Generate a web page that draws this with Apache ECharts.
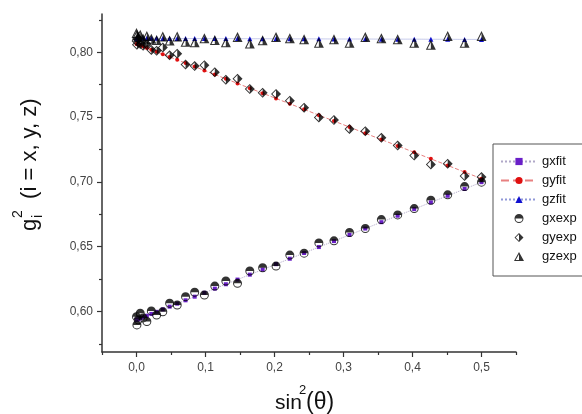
<!DOCTYPE html>
<html>
<head>
<meta charset="utf-8">
<script src="https://cdn.jsdelivr.net/npm/echarts@6/dist/echarts.min.js"></script>
<style>
  html, body { margin: 0; padding: 0; background: #fff; }
  #chart { width: 582px; height: 414px; }
</style>
</head>
<body>
<div id="chart"></div>
<script>
// sin^2(theta) sampling points shared by all series
const sin2Theta = [0.0000, 0.0006, 0.0024, 0.0054, 0.0096, 0.0150, 0.0215, 0.0292, 0.0381, 0.0480,
  0.0590, 0.0711, 0.0843, 0.0984, 0.1135, 0.1295, 0.1464, 0.1642, 0.1828, 0.2022,
  0.2222, 0.2429, 0.2643, 0.2862, 0.3087, 0.3316, 0.3549, 0.3785, 0.4025, 0.4266,
  0.4510, 0.4755, 0.5000];

// measured g^2 values
const gxExp = [0.5960, 0.5896, 0.5935, 0.5986, 0.5950, 0.5922, 0.6004, 0.5973, 0.5998, 0.6063,
  0.6050, 0.6114, 0.6148, 0.6127, 0.6196, 0.6235, 0.6217, 0.6312, 0.6337, 0.6350,
  0.6435, 0.6450, 0.6529, 0.6545, 0.6609, 0.6640, 0.6709, 0.6745, 0.6794, 0.6858,
  0.6900, 0.6964, 0.6998];
const gyExp = [0.8088, 0.8058, 0.8104, 0.8065, 0.8050, 0.8063, 0.8019, 0.8012, 0.8037, 0.7977,
  0.7990, 0.7906, 0.7894, 0.7900, 0.7846, 0.7788, 0.7796, 0.7717, 0.7688, 0.7678,
  0.7627, 0.7573, 0.7498, 0.7478, 0.7409, 0.7391, 0.7340, 0.7281, 0.7204, 0.7135,
  0.7140, 0.7045, 0.7037];
const gzExp = [0.8150, 0.8135, 0.8119, 0.8135, 0.8104, 0.8127, 0.8104, 0.8096, 0.8123, 0.8092,
  0.8123, 0.8081, 0.8077, 0.8108, 0.8096, 0.8077, 0.8119, 0.8068, 0.8094, 0.8119,
  0.8109, 0.8102, 0.8075, 0.8102, 0.8075, 0.8119, 0.8109, 0.8102, 0.8075, 0.8058,
  0.8127, 0.8075, 0.8127];

// fitted g^2 values
const gxFit = [0.5935, 0.5936, 0.5940, 0.5946, 0.5955, 0.5967, 0.5981, 0.5997, 0.6016, 0.6037,
  0.6060, 0.6086, 0.6114, 0.6144, 0.6176, 0.6210, 0.6246, 0.6284, 0.6323, 0.6365,
  0.6407, 0.6451, 0.6497, 0.6543, 0.6591, 0.6640, 0.6689, 0.6739, 0.6790, 0.6842,
  0.6893, 0.6945, 0.6998];
const gyFit = [0.8065, 0.8064, 0.8060, 0.8054, 0.8045, 0.8034, 0.8020, 0.8004, 0.7986, 0.7965,
  0.7942, 0.7917, 0.7890, 0.7860, 0.7829, 0.7796, 0.7760, 0.7723, 0.7685, 0.7644,
  0.7603, 0.7560, 0.7515, 0.7470, 0.7423, 0.7375, 0.7327, 0.7278, 0.7228, 0.7178,
  0.7127, 0.7076, 0.7025];
const gzFit = [0.8108, 0.8108, 0.8108, 0.8108, 0.8108, 0.8108, 0.8108, 0.8108, 0.8107, 0.8107,
  0.8107, 0.8107, 0.8107, 0.8106, 0.8106, 0.8106, 0.8106, 0.8105, 0.8105, 0.8105,
  0.8104, 0.8104, 0.8104, 0.8103, 0.8103, 0.8103, 0.8102, 0.8102, 0.8102, 0.8101,
  0.8101, 0.8100, 0.8100];

// axis ticks
const xMajorTicks = [0.0, 0.1, 0.2, 0.3, 0.4, 0.5];
const xMinorTicks = [-0.05, 0.05, 0.15, 0.25, 0.35, 0.45, 0.55];
const yMajorTicks = [0.60, 0.65, 0.70, 0.75, 0.80];
const yMinorTicks = [0.575, 0.625, 0.675, 0.725, 0.775, 0.825];

const seriesNames = ['gxfit', 'gyfit', 'gzfit', 'gxexp', 'gyexp', 'gzexp'];

// half-filled marker shapes (outline ring + solid half)
const halfCircle = 'path://M-10,0A10,10,0,1,1,10,0A10,10,0,1,1,-10,0ZM-7.8,0A7.8,7.8,0,0,0,7.8,0Z';
const halfDiamond = 'path://M0,-10L10,0L0,10L-10,0ZM0,-7.4L-7.4,0L0,7.4Z';
const halfTriangle = 'path://M0,-10L10,8L-10,8ZM0,-5.6L-6.6,6.2L0,6.2Z';

const pairs = ys => sin2Theta.map((x, i) => [x, ys[i]]);

const FONT = '"Liberation Sans", Arial, sans-serif';
const axisColor = '#333';

function fitSeries(name, ys, symbol, size, color, lineColor, lineType) {
  return {
    name, type: 'line', data: pairs(ys), xAxisIndex: 0, yAxisIndex: 0,
    symbol, symbolSize: size, showSymbol: true, z: 2,
    itemStyle: { color },
    lineStyle: { color: lineColor, width: 1, type: lineType }
  };
}
function expSeries(name, ys, symbol, size) {
  return {
    name, type: 'scatter', data: pairs(ys), xAxisIndex: 0, yAxisIndex: 0,
    symbol, symbolSize: size, z: 3,
    itemStyle: { color: '#000' }
  };
}

const chart = echarts.init(document.getElementById('chart'), null, { renderer: 'canvas' });
chart.setOption({
  animation: false,
  backgroundColor: '#fff',
  grid: { left: 102, top: 14, width: 414, height: 338, containLabel: false },
  legend: {
    orient: 'vertical', left: 493, top: 144,
    itemWidth: 36, itemHeight: 9, itemGap: 6,
    padding: [11, 40, 13, 7],
    borderColor: '#555', borderWidth: 1,
    textStyle: { fontSize: 13, color: '#111', fontFamily: FONT },
    data: seriesNames
  },
  xAxis: [
    {
      type: 'value', min: -0.05, max: 0.55, position: 'bottom',
      axisLine: { show: true, onZero: false, lineStyle: { color: axisColor, width: 1.5 } },
      axisTick: { show: true, length: 5, customValues: xMajorTicks, lineStyle: { color: axisColor, width: 1.2 } },
      axisLabel: { customValues: xMajorTicks, margin: 10, fontSize: 12, color: '#444', fontFamily: FONT,
        formatter: v => v.toFixed(1).replace('.', ',') },
      splitLine: { show: false }
    },
    {
      type: 'value', min: -0.05, max: 0.55, position: 'bottom',
      axisLine: { show: false, onZero: false },
      axisTick: { show: true, length: 3, customValues: xMinorTicks, lineStyle: { color: axisColor, width: 1.2 } },
      axisLabel: { show: false },
      splitLine: { show: false }
    }
  ],
  yAxis: [
    {
      type: 'value', min: 0.5687, max: 0.8296, position: 'left',
      axisLine: { show: true, onZero: false, lineStyle: { color: axisColor, width: 1.5 } },
      axisTick: { show: true, length: 5, customValues: yMajorTicks, lineStyle: { color: axisColor, width: 1.2 } },
      axisLabel: { customValues: yMajorTicks, margin: 9, fontSize: 12, color: '#444', fontFamily: FONT,
        formatter: v => v.toFixed(2).replace('.', ',') },
      splitLine: { show: false }
    },
    {
      type: 'value', min: 0.5687, max: 0.8296, position: 'left',
      axisLine: { show: false, onZero: false },
      axisTick: { show: true, length: 3, customValues: yMinorTicks, lineStyle: { color: axisColor, width: 1.2 } },
      axisLabel: { show: false },
      splitLine: { show: false }
    }
  ],
  graphic: [
    {
      // x axis title: sin^2(θ)
      type: 'group', x: 275, y: 403,
      children: [
        { type: 'text', x: 0, y: 0, style: { text: 'sin', font: '21px ' + FONT, fill: '#111', verticalAlign: 'middle' } },
        { type: 'text', x: 24, y: -13, style: { text: '2', font: '13px ' + FONT, fill: '#111', verticalAlign: 'middle' } },
        { type: 'text', x: 31, y: 0, style: { text: '(θ)', font: '23px ' + FONT, fill: '#111', verticalAlign: 'middle' } }
      ]
    },
    {
      // y axis title: g_i^2 (i = x, y, z)
      type: 'group', x: 29.5, y: 165, rotation: Math.PI / 2,
      children: [
        { type: 'text', x: -66, y: 0, style: { text: 'g', font: '22px ' + FONT, fill: '#111', verticalAlign: 'middle' } },
        { type: 'text', x: -53, y: -11, style: { text: '2', font: '14px ' + FONT, fill: '#111', verticalAlign: 'middle' } },
        { type: 'text', x: -53, y: 9, style: { text: 'i', font: '14px ' + FONT, fill: '#111', verticalAlign: 'middle' } },
        { type: 'text', x: -40, y: 0, style: { text: ' (i = x, y, z)', font: '22px ' + FONT, fill: '#111', verticalAlign: 'middle' } }
      ]
    }
  ],
  series: [
    fitSeries('gxfit', gxFit, 'rect', 4, '#6a1fc8', '#b0a8c8', 'dotted'),
    fitSeries('gyfit', gyFit, 'circle', 4, '#e01010', '#e88080', 'dashed'),
    fitSeries('gzfit', gzFit, 'triangle', 5, '#1010d0', '#9098d8', 'dotted'),
    expSeries('gxexp', gxExp, halfCircle, 9),
    expSeries('gyexp', gyExp, halfDiamond, 10),
    expSeries('gzexp', gzExp, halfTriangle, 10)
  ]
});
</script>
</body>
</html>
